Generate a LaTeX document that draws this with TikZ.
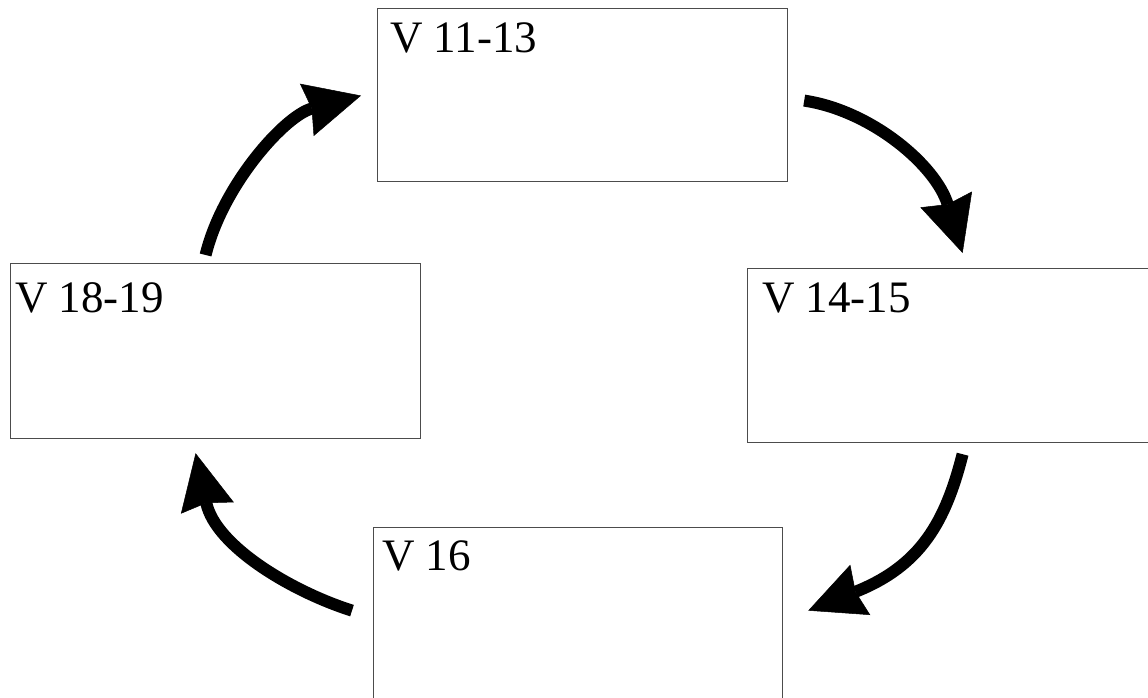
\documentclass[tikz,border=0pt]{standalone}
\usepackage{fontspec}
\setmainfont{Liberation Serif}
\usetikzlibrary{arrows.meta,calc}
\begin{document}
\begin{tikzpicture}[x=1pt,y=-1pt,
  box/.style={draw=black!70,line width=1.2pt,rectangle,anchor=north west,minimum width=410pt,inner sep=0pt},
  lbl/.style={anchor=base west,font=\fontsize{45}{54}\selectfont,inner sep=0pt},
  flow/.style={line width=12pt,-{Stealth[length=56pt,width=54pt,inset=5pt,line width=0.5pt]}}]
\useasboundingbox (0,0) rectangle (1148,697);
\clip (0,0) rectangle (1148,697);
\fill[white] (0,0) rectangle (1148,697);
\node[box,minimum height=173pt] (t) at (377,8) {};
\node[box,minimum height=174pt] (r) at (747,268) {};
\node[box,minimum height=175pt] (l) at (10,263) {};
\node[box,minimum height=175pt,minimum width=409pt] (b) at (373,527) {};
\node[lbl] (tl) at ($(t.north west)+(13,44)$) {V 11-13};
\node[lbl] (rl) at ($(r.north west)+(15,44)$) {V 14-15};
\node[lbl] (ll) at ($(l.north west)+(5,49)$) {V 18-19};
\node[lbl] (bl) at ($(b.north west)+(9,43)$) {V 16};
\coordinate (a1s) at ($(l.north)+(-10,-8)$);
\coordinate (a1e) at ($(t.west)+(-16,0.5)$);
\coordinate (a2s) at ($(t.east)+(16,5.5)$);
\coordinate (a2e) at ($(r.north)+(10,-15)$);
\coordinate (a3s) at ($(r.south)+(10,11)$);
\coordinate (a3e) at ($(b.east)+(25,-4.5)$);
\coordinate (a4s) at ($(b.west)+(-21,-4.5)$);
\coordinate (a4e) at ($(l.south)+(-20,14)$);
\draw[flow] (a1s) .. controls +(17,-70) and +(-76,20) .. (a1e);
\draw[flow] (a2s) .. controls +(67,10) and +(-27,-88) .. (a2e);
\draw[flow] (a3s) .. controls +(-17,67) and +(113,-45) .. (a3e);
\draw[flow] (a4s) .. controls +(-60,-19) and +(20,93) .. (a4e);
\end{tikzpicture}
\end{document}
